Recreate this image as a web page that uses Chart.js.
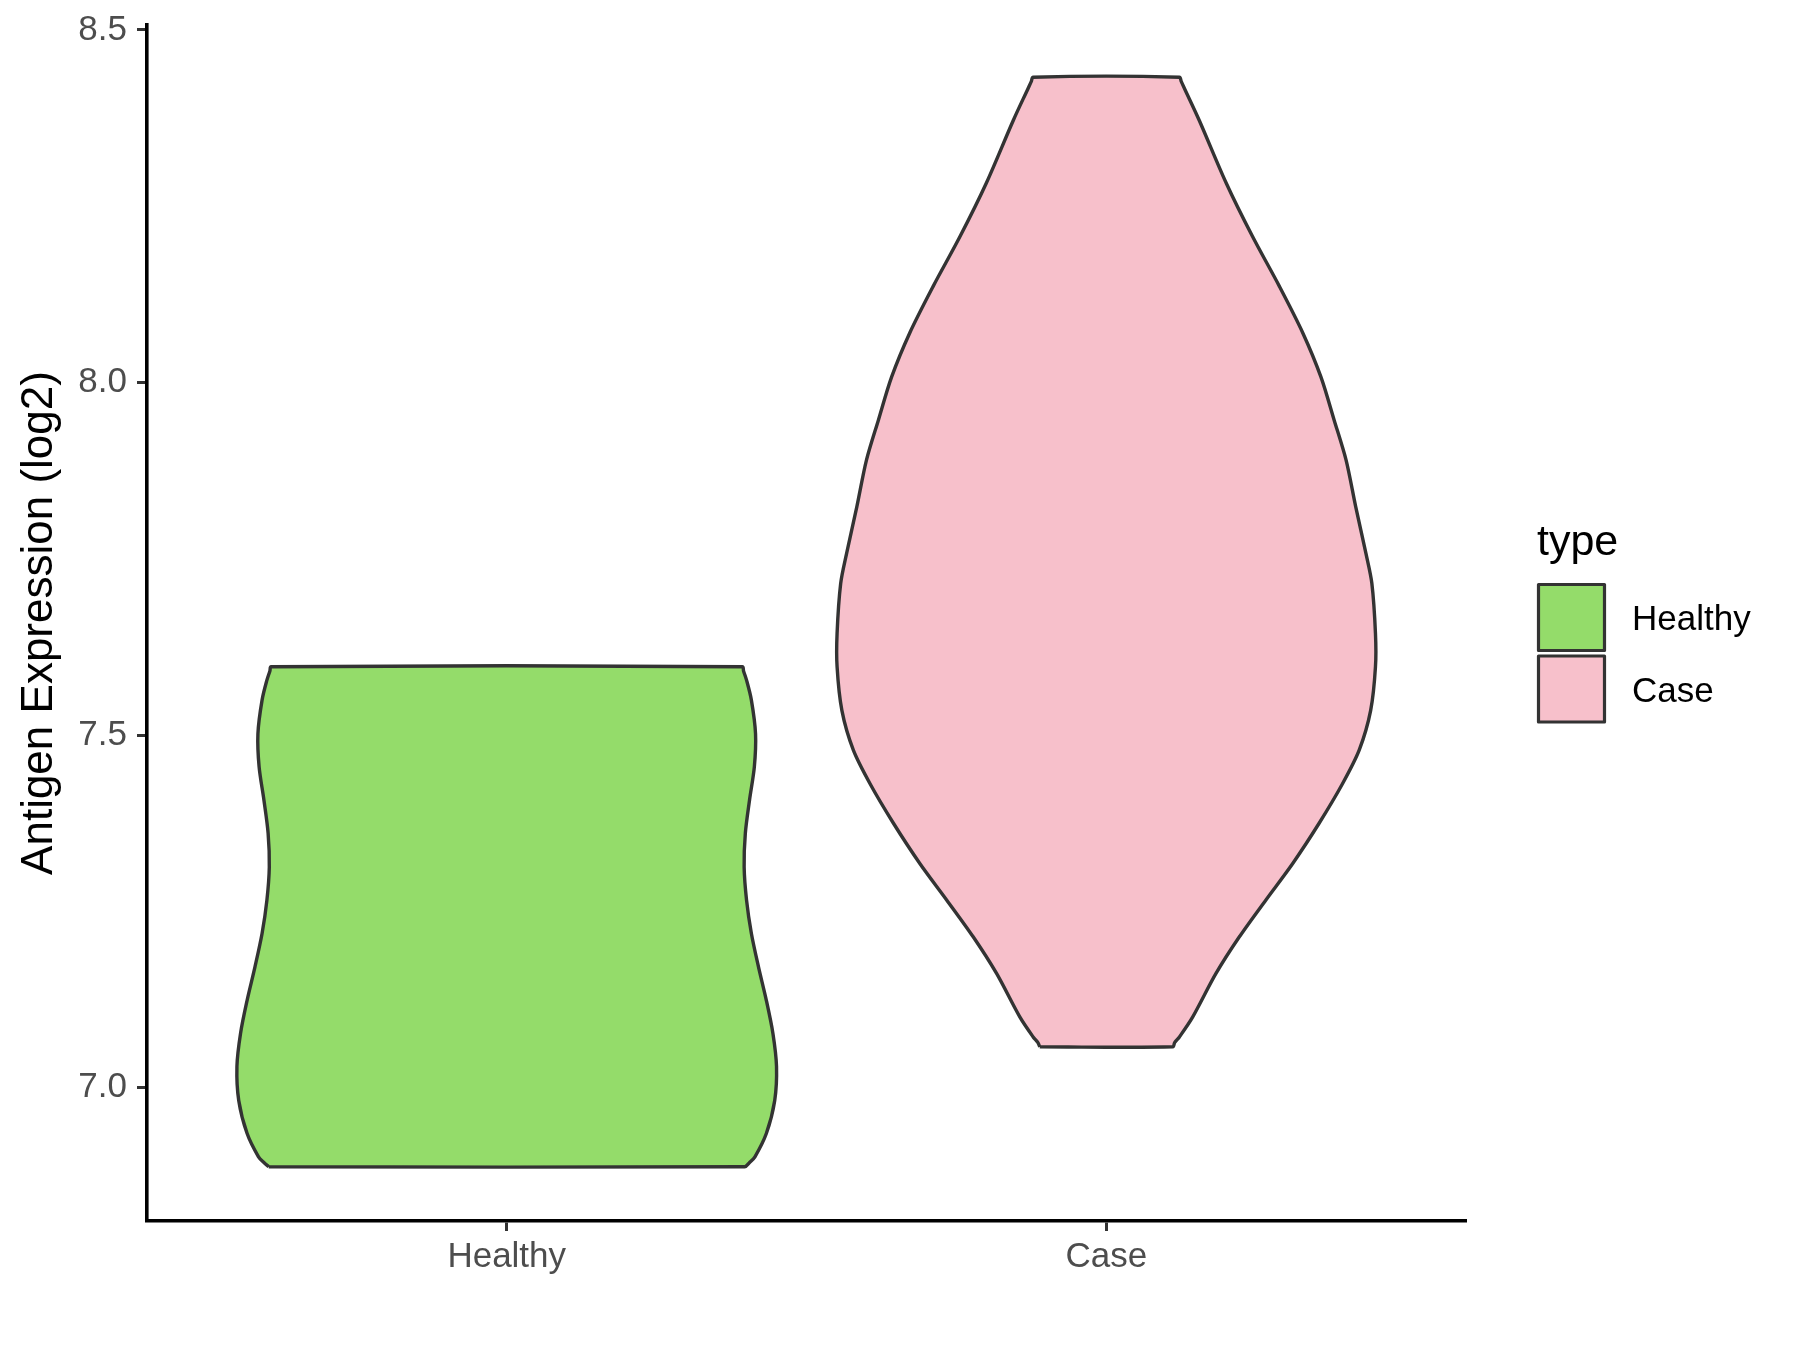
<!DOCTYPE html>
<html><head><meta charset="utf-8">
<script src="https://cdn.jsdelivr.net/npm/chart.js@4.4.1/dist/chart.umd.min.js"></script>
<style>html,body{margin:0;padding:0;background:#fff;} canvas{display:block;}</style>
</head><body>
<div style="width:1800px;height:1350px;"><canvas id="c" width="1800" height="1350"></canvas></div>
<script>
// ---- data ----
const categories = ['Healthy', 'Case'];
const legendTitle = 'type';
const yAxisTitle = 'Antigen Expression (log2)';
const yTicks = [7.0, 7.5, 8.0, 8.5];
const fillColors = ['#94DC6A', '#F7C0CB'];

// violin outlines: expression level and half-width (in category units), bottom to top
const healthyLevels = [6.888, 6.894, 6.902, 6.935, 6.982, 7.030, 7.077, 7.124, 7.171, 7.219, 7.266, 7.313, 7.361, 7.408, 7.455, 7.502, 7.550, 7.578, 7.591, 7.597];
const healthyHalfWidth = [0.397, 0.405, 0.414, 0.433, 0.447, 0.450, 0.444, 0.433, 0.420, 0.408, 0.400, 0.396, 0.398, 0.405, 0.413, 0.415, 0.408, 0.400, 0.395, 0.393];

const caseLevels = [7.058, 7.064, 7.072, 7.100, 7.162, 7.214, 7.266, 7.318, 7.375, 7.431, 7.479, 7.535, 7.597, 7.644, 7.715, 7.758, 7.824, 7.890, 7.947, 8.008, 8.070, 8.136, 8.207, 8.283, 8.372, 8.416, 8.427, 8.433];
const caseHalfWidth = [0.111, 0.114, 0.122, 0.144, 0.183, 0.222, 0.266, 0.311, 0.355, 0.394, 0.422, 0.441, 0.449, 0.449, 0.443, 0.433, 0.416, 0.400, 0.380, 0.358, 0.328, 0.289, 0.244, 0.200, 0.155, 0.131, 0.125, 0.122];

const violinLevels = [healthyLevels, caseLevels];
const violinHalfWidths = [healthyHalfWidth, caseHalfWidth];

// ---- build closed outlines (left side up, right side down, closed) ----
function outline(center, levels, hw) {
  const pts = [];
  for (let i = 0; i < levels.length; i++) pts.push({x: center - hw[i], y: levels[i]});
  for (let i = levels.length - 1; i >= 0; i--) pts.push({x: center + hw[i], y: levels[i]});
  pts.push({x: center - hw[0], y: levels[0]});
  return pts;
}

const datasets = categories.map((name, i) => ({
  label: name,
  data: outline(i + 1, violinLevels[i], violinHalfWidths[i]),
  borderColor: '#333333',
  borderWidth: 3.4,
  backgroundColor: fillColors[i],
  fill: 'shape',
  pointRadius: 0,
  pointHoverRadius: 0,
  tension: 0.3,
  borderJoinStyle: 'miter'
}));

const FONT = '"Liberation Sans", Arial, sans-serif';

const legendPlugin = {
  id: 'violinLegend',
  afterDraw(chart) {
    const ctx = chart.ctx;
    ctx.save();
    ctx.textAlign = 'left';
    ctx.textBaseline = 'alphabetic';
    ctx.fillStyle = '#000000';
    ctx.font = '43px ' + FONT;
    ctx.fillText(legendTitle, 1537, 555);
    chart.data.datasets.forEach((ds, i) => {
      const top = 584.5 + i * 71.5;
      ctx.fillStyle = ds.backgroundColor;
      ctx.fillRect(1538.5, top, 66, 66);
      ctx.strokeStyle = '#333333';
      ctx.lineWidth = 3.2;
      ctx.lineJoin = 'round';
      ctx.strokeRect(1538.5, top, 66, 66);
      ctx.fillStyle = '#000000';
      ctx.font = '35px ' + FONT;
      ctx.fillText(ds.label, 1632, top + 33 + 12.5);
    });
    ctx.restore();
  }
};

new Chart(document.getElementById('c'), {
  type: 'line',
  data: { datasets },
  plugins: [legendPlugin],
  options: {
    indexAxis: 'y',
    responsive: false,
    animation: false,
    events: [],
    layout: { padding: { top: 25, right: 334, left: 0, bottom: 0 } },
    plugins: { legend: { display: false }, tooltip: { enabled: false } },
    scales: {
      x: {
        type: 'linear',
        min: 0.4, max: 2.6,
        afterBuildTicks: (s) => { s.ticks = categories.map((c, i) => ({ value: i + 1 })); },
        afterFit: (s) => { s.height = 129; s.paddingLeft = 0; s.paddingRight = 0; },
        ticks: {
          autoSkip: false,
          callback: (v) => categories[Math.round(v) - 1],
          color: '#4D4D4D',
          font: { family: FONT, size: 35 },
          padding: 5,
          maxRotation: 0
        },
        grid: { display: true, drawOnChartArea: false, drawTicks: true, tickLength: 10, tickWidth: 3, tickColor: '#333333' },
        border: { display: true, color: '#000000', width: 3.6 }
      },
      y: {
        type: 'linear',
        min: 6.811, max: 8.507,
        afterBuildTicks: (s) => { s.ticks = yTicks.map(v => ({ value: v })); },
        afterFit: (s) => { s.width = 147; s.paddingTop = 0; s.paddingBottom = 0; },
        ticks: {
          autoSkip: false,
          callback: (v) => Number(v).toFixed(1),
          color: '#4D4D4D',
          font: { family: FONT, size: 35 },
          padding: 10
        },
        grid: { display: true, drawOnChartArea: false, drawTicks: true, tickLength: 10, tickWidth: 3, tickColor: '#333333' },
        border: { display: true, color: '#000000', width: 3.6 },
        title: {
          display: true,
          text: yAxisTitle,
          color: '#000000',
          font: { family: FONT, size: 44 },
          padding: { top: 13, bottom: 0 }
        }
      }
    }
  }
});
</script>
</body></html>
